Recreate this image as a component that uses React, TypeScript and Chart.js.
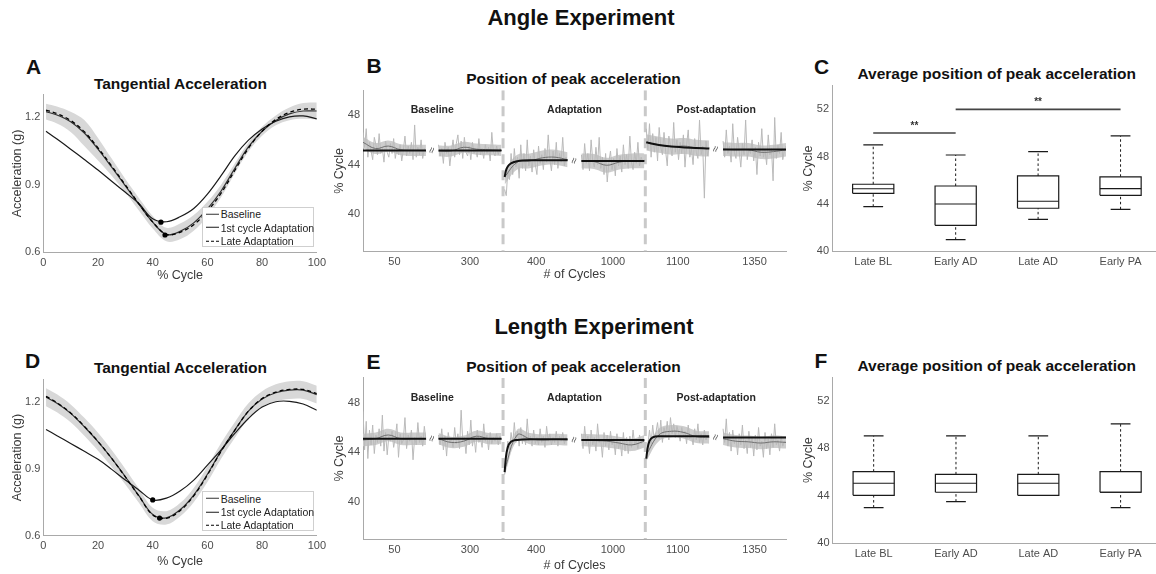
import React, { useEffect, useRef } from "react";
import { Chart, registerables } from "chart.js";

Chart.register(...registerables);

const FONT = "'Liberation Sans', Arial, Helvetica, sans-serif";
const TICK_COLOR = "#4d4d4d";
const AXIS_COLOR = "#a9a9a9";
const TITLE_COLOR = "#3a3a3a";

// ---------- Tangential acceleration profiles (g) over % of the cycle ----------
const CYCLE_PCT = [1, 5, 10, 15, 20, 25, 30, 35, 40, 45, 50, 55, 60, 65, 70, 75, 80, 85, 90, 95, 100];
const PCT_TICKS = [0, 20, 40, 60, 80, 100];
const ACC_TICKS = [0.6, 0.9, 1.2];
const LEGEND_LABELS = ["Baseline", "1st cycle Adaptation", "Late Adaptation"];

const ANGLE_BASELINE = [1.225, 1.21, 1.18, 1.13, 1.058, 0.978, 0.895, 0.812, 0.733, 0.678, 0.692, 0.73, 0.792, 0.872, 0.972, 1.068, 1.138, 1.186, 1.215, 1.228, 1.228];
const ANGLE_FIRST_AD = [1.138, 1.103, 1.058, 1.012, 0.965, 0.915, 0.866, 0.815, 0.748, 0.735, 0.757, 0.794, 0.858, 0.94, 1.028, 1.098, 1.148, 1.182, 1.202, 1.206, 1.193];
const ANGLE_LATE_AD = [1.232, 1.216, 1.186, 1.136, 1.064, 0.983, 0.899, 0.814, 0.734, 0.679, 0.688, 0.722, 0.782, 0.862, 0.963, 1.062, 1.138, 1.19, 1.222, 1.236, 1.236];
const ANGLE_SPREAD = [0.035, 0.038, 0.045, 0.058, 0.05, 0.038, 0.03, 0.028, 0.028, 0.03, 0.035, 0.035, 0.032, 0.028, 0.022, 0.02, 0.02, 0.022, 0.028, 0.035, 0.038];
const ANGLE_MINIMA = [[43, 0.733], [44.5, 0.676]];

const LENGTH_BASELINE = [1.22, 1.193, 1.148, 1.088, 1.021, 0.946, 0.864, 0.778, 0.695, 0.68, 0.716, 0.782, 0.875, 0.98, 1.073, 1.158, 1.212, 1.24, 1.252, 1.252, 1.232];
const LENGTH_FIRST_AD = [1.076, 1.048, 1.013, 0.978, 0.942, 0.897, 0.849, 0.804, 0.76, 0.768, 0.8, 0.849, 0.916, 0.984, 1.058, 1.125, 1.176, 1.2, 1.202, 1.19, 1.162];
const LENGTH_LATE_AD = [1.224, 1.196, 1.15, 1.09, 1.022, 0.946, 0.863, 0.777, 0.693, 0.678, 0.712, 0.778, 0.872, 0.978, 1.072, 1.158, 1.214, 1.243, 1.255, 1.255, 1.236];
const LENGTH_SPREAD = [0.04, 0.04, 0.04, 0.04, 0.04, 0.038, 0.035, 0.032, 0.03, 0.03, 0.03, 0.032, 0.035, 0.035, 0.035, 0.035, 0.035, 0.038, 0.04, 0.04, 0.04];
const LENGTH_MINIMA = [[40, 0.76], [42.5, 0.679]];

// ---------- Position of peak acceleration, trial by trial (% cycle) ----------
// Six blocks of 100 cycles each, shown on a broken axis.
const SEG_START_CYCLE = [0, 250, 350, 950, 1050, 1300];
const SEG_SPAN = 100;
const SEG_AXIS_OFFSET = [0, 120, 225, 347, 450, 572];
const CYCLE_TICKS = [50, 300, 400, 1000, 1100, 1350];
const TRIAL_TICKS = [40, 44, 48];
const PHASE_LABELS = ["Baseline", "Adaptation", "Post-adaptation"];
const FIT_REL = [0, 2, 5, 10, 20, 40, 70, 100];
const SMOOTH_REL = [0, 20, 40, 60, 80, 100];

const ANGLE_RAW = [
  [46.6, 45.4, 46.9, 44.6, 45.8, 45.1, 44.4, 46.2, 45.6, 44.8, 46.5, 44.9, 45.3, 44.2, 45.9, 45.0, 44.6, 45.7, 44.9, 46.1, 44.5, 45.3, 44.8, 45.6, 44.3, 45.2, 46.3, 44.7, 45.5, 44.9, 45.8, 44.4, 47.2, 44.6, 45.4, 44.8, 46.0, 44.5, 45.3, 45.0],
  [45.6, 44.7, 45.3, 44.1, 45.8, 44.9, 45.4, 43.9, 45.1, 46.0, 44.6, 45.7, 46.4, 44.8, 45.9, 44.5, 46.2, 45.0, 44.7, 45.5, 44.4, 45.8, 44.9, 45.2, 44.6, 46.1, 44.8, 45.3, 44.5, 45.6, 44.9, 45.4, 44.3, 46.6, 45.0, 44.7, 45.5, 44.8, 45.3, 45.1],
  [42.0, 41.5, 43.6, 42.8, 44.9, 43.2, 45.3, 43.8, 44.6, 42.9, 45.6, 43.7, 44.9, 43.5, 46.0, 43.9, 44.7, 43.4, 45.2, 44.0, 43.2, 45.5, 44.1, 44.8, 43.6, 45.3, 44.2, 46.4, 44.5, 43.5, 45.1, 44.0, 45.8, 43.7, 44.9, 44.2, 46.2, 43.9, 44.6, 44.3],
  [44.8, 43.6, 45.7, 44.1, 44.9, 43.5, 46.0, 44.3, 43.8, 45.4, 44.0, 46.2, 43.7, 44.6, 43.2, 44.9, 42.6, 44.2, 45.1, 43.6, 44.5, 43.1, 45.3, 43.9, 44.7, 43.4, 45.6, 44.0, 44.8, 43.7, 46.3, 44.2, 43.6, 45.0, 44.1, 45.8, 43.9, 44.6, 44.2, 44.4],
  [46.9, 45.2, 47.3, 44.6, 46.5, 45.0, 46.2, 44.3, 47.0, 45.4, 44.8, 46.6, 45.1, 43.9, 46.3, 45.5, 44.7, 47.4, 45.0, 46.0, 44.4, 45.8, 44.9, 46.4, 43.8, 45.6, 46.8, 44.6, 45.3, 44.0, 46.1, 45.0, 44.5, 47.6, 44.8, 45.5, 41.3, 45.9, 44.7, 45.4],
  [45.9, 44.6, 46.8, 44.9, 45.5, 44.2, 47.3, 45.0, 44.5, 46.2, 45.1, 43.8, 45.7, 44.8, 47.6, 44.4, 45.3, 44.9, 46.0, 44.3, 45.4, 43.2, 45.8, 44.7, 46.9, 44.6, 45.2, 44.0, 46.4, 44.8, 45.3, 42.7, 47.8, 44.5, 45.6, 44.9, 46.6, 44.4, 45.2, 45.5],
];
const ANGLE_SMOOTH = [
  [45.8, 45.3, 45.5, 45.2, 45.15, 45.15],
  [45.1, 45.1, 45.4, 45.25, 45.2, 45.15],
  [43.0, 44.2, 44.3, 44.55, 44.6, 44.4],
  [44.3, 44.25, 43.95, 44.2, 44.3, 44.3],
  [45.8, 45.6, 45.45, 45.5, 45.35, 45.3],
  [45.25, 45.2, 45.2, 45.0, 45.05, 45.2],
];
const ANGLE_BAND_HALF = [0.45, 0.45, 0.6, 0.6, 0.65, 0.55];
const ANGLE_FIT = [
  [45.15, 45.15, 45.15, 45.15, 45.15, 45.15, 45.15, 45.15],
  [45.15, 45.15, 45.15, 45.15, 45.15, 45.15, 45.15, 45.15],
  [43.0, 43.5, 43.85, 44.1, 44.28, 44.35, 44.35, 44.35],
  [44.3, 44.3, 44.3, 44.3, 44.3, 44.3, 44.3, 44.3],
  [45.8, 45.78, 45.74, 45.68, 45.58, 45.46, 45.36, 45.3],
  [45.22, 45.22, 45.22, 45.22, 45.22, 45.22, 45.22, 45.22],
];
const ANGLE_BREAK_LEVEL = [45.15, 44.3, 45.25];

const LENGTH_RAW = [
  [47.3, 44.2, 46.5, 43.5, 45.8, 44.6, 46.2, 43.9, 45.4, 44.8, 45.9, 44.5, 47.0, 44.1, 45.6, 43.8, 45.3, 44.9, 45.7, 44.4, 45.2, 46.3, 43.6, 45.5, 44.7, 45.0, 46.8, 44.3, 45.4, 44.9, 45.8, 43.4, 45.2, 44.6, 46.4, 44.8, 45.3, 44.5, 46.1, 45.0],
  [45.4, 44.6, 45.9, 44.2, 45.3, 43.7, 45.6, 44.8, 45.1, 44.4, 46.0, 44.7, 45.5, 44.3, 47.4, 44.9, 45.2, 43.9, 45.7, 44.6, 46.6, 44.5, 45.3, 44.0, 45.8, 44.8, 45.1, 44.4, 46.3, 44.9, 45.4, 44.2, 45.6, 44.7, 45.2, 44.9, 45.5, 44.6, 45.3, 45.0],
  [42.2, 43.8, 44.9, 44.2, 45.6, 44.6, 46.4, 44.8, 45.7, 44.5, 46.0, 44.7, 45.4, 44.6, 46.7, 44.9, 45.3, 44.5, 45.8, 44.7, 45.2, 44.6, 45.9, 44.8, 45.3, 44.4, 46.1, 44.9, 45.5, 44.6, 45.2, 44.8, 45.7, 44.5, 45.3, 44.9, 45.6, 44.7, 45.2, 45.0],
  [45.5, 44.3, 46.1, 44.7, 45.3, 43.9, 45.8, 44.6, 45.2, 44.1, 46.3, 44.8, 45.0, 43.6, 45.6, 44.5, 45.4, 44.2, 45.7, 44.6, 45.1, 43.8, 45.5, 44.3, 44.9, 43.7, 45.6, 44.1, 45.2, 43.9, 45.3, 44.4, 45.8, 44.6, 45.0, 44.3, 45.4, 44.7, 45.1, 45.0],
  [43.4, 44.6, 45.8, 44.7, 46.2, 44.9, 45.6, 46.4, 45.1, 46.6, 44.8, 46.0, 45.3, 46.5, 45.0, 46.8, 45.5, 46.3, 45.2, 46.1, 45.6, 44.9, 46.0, 45.3, 45.7, 44.7, 46.2, 45.1, 45.4, 44.6, 45.9, 45.0, 46.3, 44.8, 45.5, 44.6, 45.8, 45.0, 45.3, 45.2],
  [45.9, 44.8, 46.7, 44.5, 45.6, 44.1, 45.8, 44.7, 45.3, 43.8, 45.5, 44.6, 46.2, 44.3, 45.0, 43.9, 45.7, 44.4, 45.2, 43.7, 45.4, 44.2, 46.0, 44.5, 44.9, 43.6, 45.6, 44.3, 45.1, 43.8, 45.5, 44.4, 46.3, 44.6, 45.0, 44.1, 45.3, 44.5, 44.9, 44.8],
];
const LENGTH_SMOOTH = [
  [45.0, 45.1, 45.4, 45.1, 45.1, 45.1],
  [45.1, 44.8, 44.9, 45.3, 45.1, 45.1],
  [42.6, 45.4, 45.1, 45.0, 45.05, 45.0],
  [45.0, 44.95, 44.9, 44.75, 44.6, 44.9],
  [43.8, 45.4, 45.7, 45.6, 45.25, 45.2],
  [45.1, 44.9, 44.85, 44.75, 44.85, 44.8],
];
const LENGTH_BAND_HALF = [0.5, 0.45, 0.45, 0.5, 0.5, 0.5];
const LENGTH_FIT = [
  [45.1, 45.1, 45.1, 45.1, 45.1, 45.1, 45.1, 45.1],
  [45.1, 45.1, 45.1, 45.1, 45.1, 45.1, 45.1, 45.1],
  [42.4, 43.6, 44.4, 44.85, 45.0, 45.05, 45.05, 45.05],
  [45.0, 45.0, 45.0, 45.0, 45.0, 45.0, 45.0, 45.0],
  [43.5, 44.3, 44.9, 45.2, 45.3, 45.3, 45.3, 45.3],
  [45.2, 45.2, 45.2, 45.2, 45.2, 45.2, 45.2, 45.2],
];
const LENGTH_BREAK_LEVEL = [45.1, 45.0, 45.2];

// ---------- Average position of peak acceleration (box plots, % cycle) ----------
const GROUPS = ["Late BL", "Early AD", "Late AD", "Early PA"];
const BOX_TICKS = [40, 44, 48, 52];

const ANGLE_LOWER = [43.77, 40.98, 42.7, 43.55];
const ANGLE_Q1 = [44.9, 42.2, 43.64, 44.73];
const ANGLE_MEDIAN = [45.29, 44.0, 44.23, 45.3];
const ANGLE_Q3 = [45.67, 45.52, 46.37, 46.3];
const ANGLE_UPPER = [48.99, 48.14, 48.42, 49.75];
const ANGLE_SIGNIFICANCE = [
  { from: 1, to: 2, level: 50, mark: "**" },
  { from: 2, to: 4, level: 52, mark: "**" },
];

const LENGTH_LOWER = [43.0, 43.5, 44.03, 43.0];
const LENGTH_Q1 = [44.03, 44.29, 44.03, 44.29];
const LENGTH_MEDIAN = [45.05, 45.05, 45.05, 44.29];
const LENGTH_Q3 = [46.03, 45.8, 45.8, 46.03];
const LENGTH_UPPER = [49.05, 49.05, 49.05, 50.06];

// ---------- helpers ----------
type Frame = {
  left: number;
  top: number;
  width: number;
  height: number;
  area: { l: number; t: number; r: number; b: number };
  xSize: number;
};

function cycleToAxis(c: number) {
  for (let k = 0; k < SEG_START_CYCLE.length; k++) {
    if (c >= SEG_START_CYCLE[k] && c <= SEG_START_CYCLE[k] + SEG_SPAN) {
      return SEG_AXIS_OFFSET[k] + (c - SEG_START_CYCLE[k]);
    }
  }
  return 0;
}

function brokenSeries(values: number[][], rel: number[] | null) {
  const pts: any[] = [];
  values.forEach((seg, k) => {
    seg.forEach((v, j) => {
      const r = rel ? rel[j] : (j * SEG_SPAN) / (seg.length - 1);
      pts.push({ x: SEG_AXIS_OFFSET[k] + r, y: v });
    });
    pts.push({ x: SEG_AXIS_OFFSET[k] + SEG_SPAN + 1, y: null });
  });
  return pts;
}

function axis(o: {
  min: number;
  max: number;
  ticks: number[];
  horizontal: boolean;
  size: number;
  fmt?: (v: number) => string;
  title?: string;
  titlePad?: number;
  tickPad?: number;
}) {
  return {
    type: "linear",
    min: o.min,
    max: o.max,
    grid: { display: false, drawTicks: false },
    border: { display: true, color: AXIS_COLOR, width: 1 },
    afterBuildTicks: (s: any) => {
      s.ticks = o.ticks.map((v) => ({ value: v }));
    },
    afterFit: (s: any) => {
      if (o.horizontal) s.height = o.size;
      else s.width = o.size;
    },
    ticks: {
      color: TICK_COLOR,
      font: { family: FONT, size: 11 },
      padding: o.tickPad ?? 3,
      autoSkip: false,
      maxRotation: 0,
      callback: (v: any) => (o.fmt ? o.fmt(Number(v)) : String(v)),
    },
    title: o.title
      ? {
          display: true,
          text: o.title,
          color: TITLE_COLOR,
          font: { family: FONT, size: 12.5 },
          padding: { top: o.titlePad ?? 0, bottom: o.titlePad ?? 0 },
        }
      : { display: false },
  };
}

function baseOptions(f: Frame, scales: any) {
  return {
    responsive: false,
    animation: false,
    devicePixelRatio: 1,
    layout: {
      padding: {
        left: 0,
        top: f.area.t - f.top,
        right: f.left + f.width - f.area.r,
        bottom: f.top + f.height - f.area.b - f.xSize,
      },
    },
    plugins: { legend: { display: false }, tooltip: { enabled: false } },
    elements: { point: { radius: 0 }, line: { borderCapStyle: "butt" } },
    scales,
  };
}

// ---------- chart builders ----------
function profileChart(baseline: number[], first: number[], late: number[], spread: number[], minima: number[][]) {
  const pts = (arr: number[]) => CYCLE_PCT.map((x, i) => ({ x, y: arr[i] }));
  return (f: Frame) => ({
    type: "line",
    data: {
      datasets: [
        {
          data: minima.map(([x, y]) => ({ x, y })),
          showLine: false,
          pointRadius: 2.6,
          pointBackgroundColor: "#000",
          pointBorderWidth: 0,
        },
        { data: pts(late), borderColor: "#000", borderWidth: 1.3, borderDash: [4, 3], tension: 0.35 },
        { data: pts(first), borderColor: "#1a1a1a", borderWidth: 1.2, tension: 0.35 },
        { data: pts(baseline), borderColor: "#333", borderWidth: 1.2, tension: 0.35 },
        {
          data: CYCLE_PCT.map((x, i) => ({ x, y: baseline[i] + spread[i] })),
          borderWidth: 0,
          tension: 0.35,
          fill: false,
        },
        {
          data: CYCLE_PCT.map((x, i) => ({ x, y: baseline[i] - spread[i] })),
          borderWidth: 0,
          tension: 0.35,
          fill: "-1",
          backgroundColor: "#d8d8d8",
        },
      ],
    },
    options: baseOptions(f, {
      x: axis({ min: 0, max: 100, ticks: PCT_TICKS, horizontal: true, size: f.xSize, title: "% Cycle", tickPad: 4 }),
      y: axis({
        min: 0.6,
        max: 1.3,
        ticks: ACC_TICKS,
        horizontal: false,
        size: f.area.l - f.left,
        fmt: (v) => v.toFixed(1),
        title: "Acceleration (g)",
        titlePad: 10,
      }),
    }),
  });
}

function phasePlugin(breakLevels: number[]) {
  const centers = [
    (SEG_AXIS_OFFSET[0] + SEG_AXIS_OFFSET[1] + SEG_SPAN) / 2,
    (SEG_AXIS_OFFSET[2] + SEG_AXIS_OFFSET[3] + SEG_SPAN) / 2,
    (SEG_AXIS_OFFSET[4] + SEG_AXIS_OFFSET[5] + SEG_SPAN) / 2,
  ];
  return {
    id: "phaseText",
    afterDatasetsDraw(chart: any) {
      const { ctx } = chart;
      const x = chart.scales.x;
      const y = chart.scales.y;
      ctx.save();
      ctx.fillStyle = "#262626";
      ctx.font = `bold 10.5px ${FONT}`;
      ctx.textAlign = "center";
      ctx.textBaseline = "middle";
      PHASE_LABELS.forEach((t, i) => ctx.fillText(t, x.getPixelForValue(centers[i]), y.getPixelForValue(48.4)));
      ctx.font = `11px ${FONT}`;
      ctx.fillStyle = "#555";
      centers.forEach((c, i) => {
        ctx.save();
        ctx.translate(x.getPixelForValue(c), y.getPixelForValue(breakLevels[i]));
        ctx.rotate(-1.25);
        ctx.fillText("\u2248", 0, 0);
        ctx.restore();
      });
      ctx.restore();
    },
  };
}

function trialChart(raw: number[][], smooth: number[][], band: number[], fit: number[][], breakLevels: number[]) {
  const Y_MIN = 37;
  const Y_MAX = 50;
  const dividers = [
    (SEG_AXIS_OFFSET[1] + SEG_SPAN + SEG_AXIS_OFFSET[2]) / 2,
    (SEG_AXIS_OFFSET[3] + SEG_SPAN + SEG_AXIS_OFFSET[4]) / 2,
  ];
  const xMax = SEG_AXIS_OFFSET[SEG_AXIS_OFFSET.length - 1] + SEG_SPAN;
  const tickPos = CYCLE_TICKS.map(cycleToAxis);
  const upper = smooth.map((seg, k) => seg.map((v) => v + band[k]));
  const lower = smooth.map((seg, k) => seg.map((v) => v - band[k]));
  return (f: Frame) => ({
    type: "line",
    data: {
      datasets: [
        { data: brokenSeries(fit, FIT_REL), borderColor: "#111", borderWidth: 2, cubicInterpolationMode: "monotone" },
        { data: brokenSeries(smooth, SMOOTH_REL), borderColor: "#707070", borderWidth: 1, tension: 0.4 },
        { data: brokenSeries(raw, null), borderColor: "#bababa", borderWidth: 1, tension: 0 },
        { data: brokenSeries(upper, SMOOTH_REL), borderWidth: 0, tension: 0.4, fill: false },
        {
          data: brokenSeries(lower, SMOOTH_REL),
          borderWidth: 0,
          tension: 0.4,
          fill: "-1",
          backgroundColor: "#cdcdcd",
        },
        ...dividers.map((d) => ({
          data: [
            { x: d, y: Y_MAX },
            { x: d, y: Y_MIN },
          ],
          borderColor: "#c9c9c9",
          borderWidth: 3,
          borderDash: [10, 6],
        })),
      ],
    },
    options: baseOptions(f, {
      x: axis({
        min: 0,
        max: xMax,
        ticks: tickPos,
        horizontal: true,
        size: f.xSize,
        fmt: (v) => String(CYCLE_TICKS[tickPos.indexOf(v)] ?? ""),
        title: "# of Cycles",
        tickPad: 4,
      }),
      y: axis({
        min: Y_MIN,
        max: Y_MAX,
        ticks: TRIAL_TICKS,
        horizontal: false,
        size: f.area.l - f.left,
        title: "% Cycle",
        titlePad: 12,
      }),
    }),
    plugins: [phasePlugin(breakLevels)],
  });
}

function sigPlugin(sig: { from: number; to: number; level: number; mark: string }[]) {
  return {
    id: "sigText",
    afterDatasetsDraw(chart: any) {
      const { ctx } = chart;
      const x = chart.scales.x;
      const y = chart.scales.y;
      ctx.save();
      ctx.fillStyle = "#333";
      ctx.font = `bold 10px ${FONT}`;
      ctx.textAlign = "center";
      ctx.textBaseline = "alphabetic";
      sig.forEach((s) => ctx.fillText(s.mark, x.getPixelForValue((s.from + s.to) / 2), y.getPixelForValue(s.level) - 4));
      ctx.restore();
    },
  };
}

function boxChart(
  lo: number[],
  q1: number[],
  med: number[],
  q3: number[],
  hi: number[],
  sig: { from: number; to: number; level: number; mark: string }[]
) {
  const BW = 0.25;
  const CW = 0.12;
  const boxes: any[] = [];
  const medians: any[] = [];
  const whiskers: any[] = [];
  const caps: any[] = [];
  GROUPS.forEach((_, i) => {
    const c = i + 1;
    boxes.push(
      { x: c - BW, y: q1[i] },
      { x: c + BW, y: q1[i] },
      { x: c + BW, y: q3[i] },
      { x: c - BW, y: q3[i] },
      { x: c - BW, y: q1[i] },
      { x: c, y: null }
    );
    medians.push({ x: c - BW, y: med[i] }, { x: c + BW, y: med[i] }, { x: c, y: null });
    whiskers.push({ x: c, y: q3[i] }, { x: c, y: hi[i] }, { x: c, y: null });
    if (lo[i] < q1[i]) whiskers.push({ x: c, y: lo[i] }, { x: c, y: q1[i] }, { x: c, y: null });
    caps.push({ x: c - CW, y: hi[i] }, { x: c + CW, y: hi[i] }, { x: c, y: null });
    if (lo[i] < q1[i]) caps.push({ x: c - CW, y: lo[i] }, { x: c + CW, y: lo[i] }, { x: c, y: null });
  });
  const sigLines: any[] = [];
  sig.forEach((s) => sigLines.push({ x: s.from, y: s.level }, { x: s.to, y: s.level }, { x: s.from, y: null }));
  return (f: Frame) => ({
    type: "line",
    data: {
      datasets: [
        { data: boxes, borderColor: "#1a1a1a", borderWidth: 1.2, tension: 0 },
        { data: medians, borderColor: "#1a1a1a", borderWidth: 1.2, tension: 0 },
        { data: caps, borderColor: "#1a1a1a", borderWidth: 1.2, tension: 0 },
        { data: whiskers, borderColor: "#1a1a1a", borderWidth: 1, borderDash: [2.5, 2.5], tension: 0 },
        { data: sigLines, borderColor: "#444", borderWidth: 1.6, tension: 0 },
      ],
    },
    options: baseOptions(f, {
      x: axis({
        min: 0.5,
        max: 4.43,
        ticks: GROUPS.map((_, i) => i + 1),
        horizontal: true,
        size: f.xSize,
        fmt: (v) => GROUPS[Math.round(v) - 1] ?? "",
        tickPad: 4,
      }),
      y: axis({
        min: 40,
        max: 54,
        ticks: BOX_TICKS,
        horizontal: false,
        size: f.area.l - f.left,
        title: "% Cycle",
        titlePad: 11,
      }),
    }),
    plugins: [sigPlugin(sig)],
  });
}

// ---------- components ----------
function ChartBox({ frame, build }: { frame: Frame; build: (f: Frame) => any }) {
  const ref = useRef<HTMLCanvasElement | null>(null);
  useEffect(() => {
    const chart = new Chart(ref.current as HTMLCanvasElement, build(frame));
    return () => chart.destroy();
  }, []);
  return (
    <canvas
      ref={ref}
      width={frame.width}
      height={frame.height}
      style={{ position: "absolute", left: frame.left, top: frame.top, width: frame.width, height: frame.height }}
    />
  );
}

function Label({ x, y, text, size, bold = true, color = "#111" }: any) {
  return (
    <div
      style={{
        position: "absolute",
        left: x,
        top: y,
        transform: "translate(-50%, -50%)",
        whiteSpace: "nowrap",
        lineHeight: 1,
        fontFamily: FONT,
        fontWeight: bold ? 700 : 400,
        fontSize: size,
        color,
      }}
    >
      {text}
    </div>
  );
}

function Legend({ left, top }: { left: number; top: number }) {
  const styles = ["1.2px solid #333", "1.2px solid #1a1a1a", "1.3px dashed #000"];
  return (
    <div
      style={{
        position: "absolute",
        left,
        top,
        width: 112,
        height: 40,
        border: "1px solid #cfcfcf",
        background: "#fff",
        boxSizing: "border-box",
      }}
    >
      {LEGEND_LABELS.map((label, i) => (
        <div
          key={label}
          style={{
            position: "absolute",
            left: 3,
            top: 6.5 + i * 13.4,
            transform: "translateY(-50%)",
            display: "flex",
            alignItems: "center",
            whiteSpace: "nowrap",
          }}
        >
          <span style={{ display: "inline-block", width: 13, height: 0, borderTop: styles[i], marginRight: 2 }} />
          <span style={{ fontFamily: FONT, fontSize: 10.5, color: "#222", lineHeight: 1 }}>{label}</span>
        </div>
      ))}
    </div>
  );
}

const FRAME_A: Frame = { left: 0, top: 80, width: 330, height: 210, area: { l: 43.3, t: 94.8, r: 318, b: 252.1 }, xSize: 31 };
const FRAME_D: Frame = { left: 0, top: 365, width: 330, height: 209, area: { l: 43.3, t: 379.4, r: 318, b: 535.7 }, xSize: 33 };
const FRAME_B: Frame = { left: 320, top: 76, width: 470, height: 214, area: { l: 363, t: 90.2, r: 786, b: 251.5 }, xSize: 31 };
const FRAME_E: Frame = { left: 320, top: 363, width: 470, height: 211, area: { l: 363, t: 377.9, r: 786, b: 539.2 }, xSize: 33.5 };
const FRAME_C: Frame = { left: 790, top: 72, width: 372, height: 218, area: { l: 832, t: 85.7, r: 1156, b: 251.3 }, xSize: 20 };
const FRAME_F: Frame = { left: 790, top: 363, width: 372, height: 211, area: { l: 832.5, t: 377.2, r: 1156, b: 543.1 }, xSize: 20 };

export default function App() {
  return (
    <div
      style={{
        position: "absolute",
        left: 0,
        top: 0,
        width: 1156,
        height: 574,
        overflow: "hidden",
        background: "#fff",
      }}
    >
      <Label x={581} y={18} text="Angle Experiment" size={22} />
      <Label x={594} y={327} text="Length Experiment" size={22} />

      <Label x={33.5} y={66} text="A" size={21} />
      <Label x={374} y={65} text="B" size={21} />
      <Label x={821.5} y={66} text="C" size={21} />
      <Label x={32.5} y={360} text="D" size={21} />
      <Label x={373.5} y={361} text="E" size={21} />
      <Label x={821} y={360} text="F" size={21} />

      <Label x={180.5} y={83.5} text="Tangential Acceleration" size={15.5} />
      <Label x={573.5} y={79.3} text="Position of peak acceleration" size={15.5} />
      <Label x={996.7} y={74.3} text="Average position of peak acceleration" size={15.5} />
      <Label x={180.5} y={368.3} text="Tangential Acceleration" size={15.5} />
      <Label x={573.5} y={367} text="Position of peak acceleration" size={15.5} />
      <Label x={996.7} y={365.7} text="Average position of peak acceleration" size={15.5} />

      <ChartBox
        frame={FRAME_A}
        build={profileChart(ANGLE_BASELINE, ANGLE_FIRST_AD, ANGLE_LATE_AD, ANGLE_SPREAD, ANGLE_MINIMA)}
      />
      <ChartBox
        frame={FRAME_B}
        build={trialChart(ANGLE_RAW, ANGLE_SMOOTH, ANGLE_BAND_HALF, ANGLE_FIT, ANGLE_BREAK_LEVEL)}
      />
      <ChartBox
        frame={FRAME_C}
        build={boxChart(ANGLE_LOWER, ANGLE_Q1, ANGLE_MEDIAN, ANGLE_Q3, ANGLE_UPPER, ANGLE_SIGNIFICANCE)}
      />
      <ChartBox
        frame={FRAME_D}
        build={profileChart(LENGTH_BASELINE, LENGTH_FIRST_AD, LENGTH_LATE_AD, LENGTH_SPREAD, LENGTH_MINIMA)}
      />
      <ChartBox
        frame={FRAME_E}
        build={trialChart(LENGTH_RAW, LENGTH_SMOOTH, LENGTH_BAND_HALF, LENGTH_FIT, LENGTH_BREAK_LEVEL)}
      />
      <ChartBox frame={FRAME_F} build={boxChart(LENGTH_LOWER, LENGTH_Q1, LENGTH_MEDIAN, LENGTH_Q3, LENGTH_UPPER, [])} />

      <Legend left={201.7} top={206.7} />
      <Legend left={201.7} top={491} />
    </div>
  );
}
